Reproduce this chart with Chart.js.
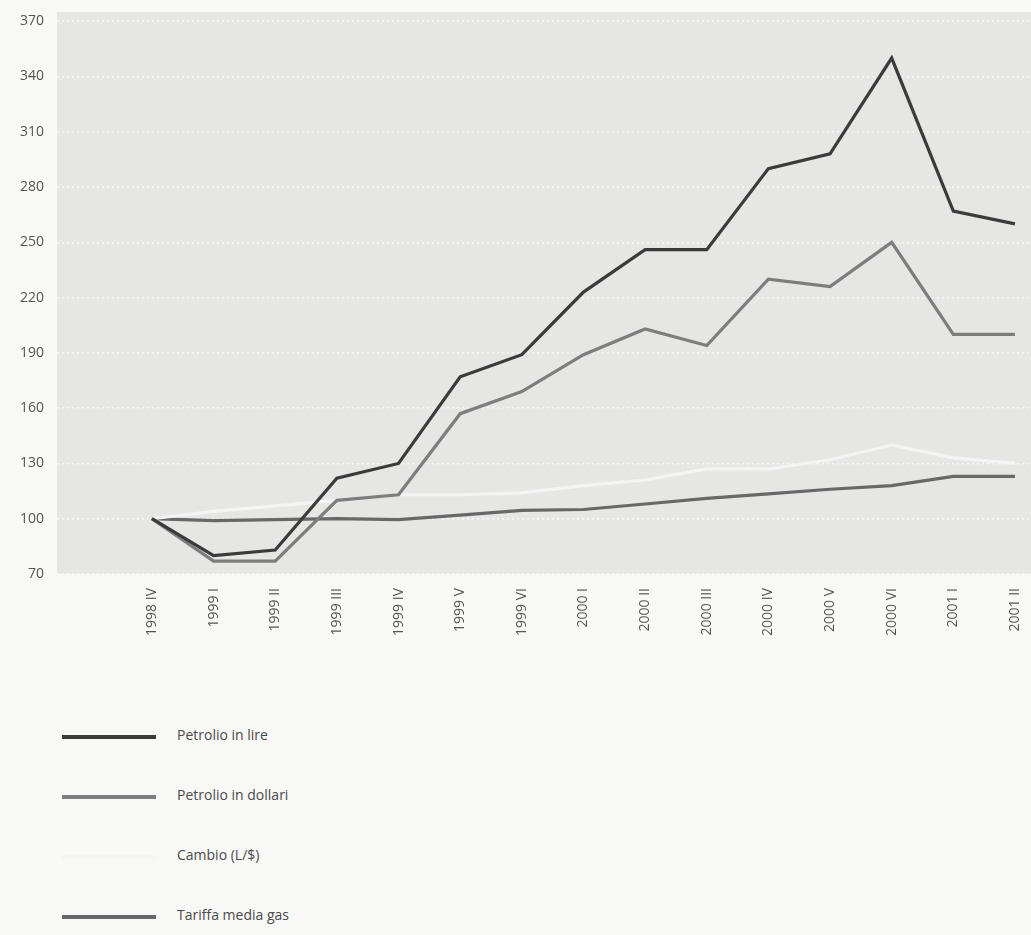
<!DOCTYPE html>
<html>
<head>
<meta charset="utf-8">
<script src="https://cdn.jsdelivr.net/npm/chart.js@4/dist/chart.umd.min.js"></script>
<style>
    body { margin: 0; background: #f8f8f7; font-family: "Open Sans", sans-serif; }
    #wrap { position: absolute; left: 0; top: 0; width: 1031px; height: 690px; }
    #legend { position: absolute; left: 62px; top: 722px; }
    .leg-row { position: relative; height: 60px; width: 400px; }
    .leg-line { position: absolute; left: 0; top: 13px; width: 94px; height: 4px; }
    .leg-text { position: absolute; left: 115px; top: 3px; font-size: 14px; color: #4a4a4a; white-space: nowrap; }
</style>
</head>
<body>
<div id="wrap"><canvas id="chart"></canvas></div>
<div id="legend"></div>
<script>
// === Data ===
const periods = ["1998 IV", "1999 I", "1999 II", "1999 III", "1999 IV", "1999 V", "1999 VI",
    "2000 I", "2000 II", "2000 III", "2000 IV", "2000 V", "2000 VI", "2001 I", "2001 II"];
const petrolioLire =    [100, 80, 83, 122, 130, 177, 189, 223, 246, 246, 290, 298, 350, 267, 260];
const petrolioDollari = [100, 77, 77, 110, 113, 157, 169, 189, 203, 194, 230, 226, 250, 200, 200];
const cambio =          [100, 104, 107, 110, 113, 113, 114, 118, 121, 127, 127, 132, 140, 133, 130];
const tariffaGas =      [100, 99, 99.5, 100, 99.5, 102, 104.5, 105, 108, 111, 113.5, 116, 118, 123, 123];
const yTicks = [70, 100, 130, 160, 190, 220, 250, 280, 310, 340, 370];

const seriesNames = ["Petrolio in lire", "Petrolio in dollari", "Cambio (L/$)", "Tariffa media gas"];
const seriesColors = ["#3b3b3b", "#7d7d7d", "#f4f4f4", "#686868"];
const seriesValues = [petrolioLire, petrolioDollari, cambio, tariffaGas];

// === Chart ===
const panelBg = {
    id: "panelBg",
    beforeDraw(chart) {
        const { ctx, chartArea: a } = chart;
        ctx.save();
        ctx.fillStyle = "#e6e6e5";
        ctx.fillRect(a.left, a.top, a.right - a.left, a.bottom - a.top);
        ctx.restore();
    },
};

const datasets = seriesNames.map((name, i) => ({
    label: name,
    data: seriesValues[i].map((v, j) => ({ x: j, y: v })),
    borderColor: seriesColors[i],
    borderWidth: 3.2,
    pointRadius: 0,
    tension: 0,
    order: i === 2 ? 3 : i,
}));

new Chart(document.getElementById("chart"), {
    type: "line",
    data: { datasets },
    plugins: [panelBg],
    options: {
        responsive: true,
        maintainAspectRatio: false,
        animation: false,
        layout: { padding: { top: 12, right: 0, left: 0, bottom: 0 } },
        plugins: { legend: { display: false }, tooltip: { enabled: false } },
        scales: {
            x: {
                type: "linear",
                min: -1.54,
                max: 14.26,
                afterBuildTicks: s => { s.ticks = periods.map((p, i) => ({ value: i })); },
                afterFit: s => { s.height = 116; s.paddingLeft = 0; s.paddingRight = 0; },
                grid: { display: false, drawTicks: false },
                border: { display: false },
                ticks: {
                    autoSkip: false,
                    minRotation: 90,
                    maxRotation: 90,
                    padding: 14,
                    color: "#555",
                    font: { family: "Open Sans", size: 14 },
                    callback: v => periods[v],
                },
            },
            y: {
                min: 70,
                max: 375,
                afterBuildTicks: s => { s.ticks = yTicks.map(v => ({ value: v })); },
                afterFit: s => { s.width = 57; s.paddingTop = 0; s.paddingBottom = 0; },
                grid: {
                    color: "rgba(255,255,255,0.65)",
                    lineWidth: 1.5,
                    drawTicks: false,
                },
                border: { display: false, dash: [2, 3] },
                ticks: {
                    padding: 13,
                    color: "#555",
                    font: { family: "Open Sans", size: 14 },
                },
            },
        },
    },
});

// === Legend ===
const legend = document.getElementById("legend");
seriesNames.forEach((name, i) => {
    const row = document.createElement("div");
    row.className = "leg-row";
    row.innerHTML = `<div class="leg-line" style="background:${seriesColors[i]}"></div>
        <div class="leg-text">${name}</div>`;
    legend.appendChild(row);
});
</script>
</body>
</html>
